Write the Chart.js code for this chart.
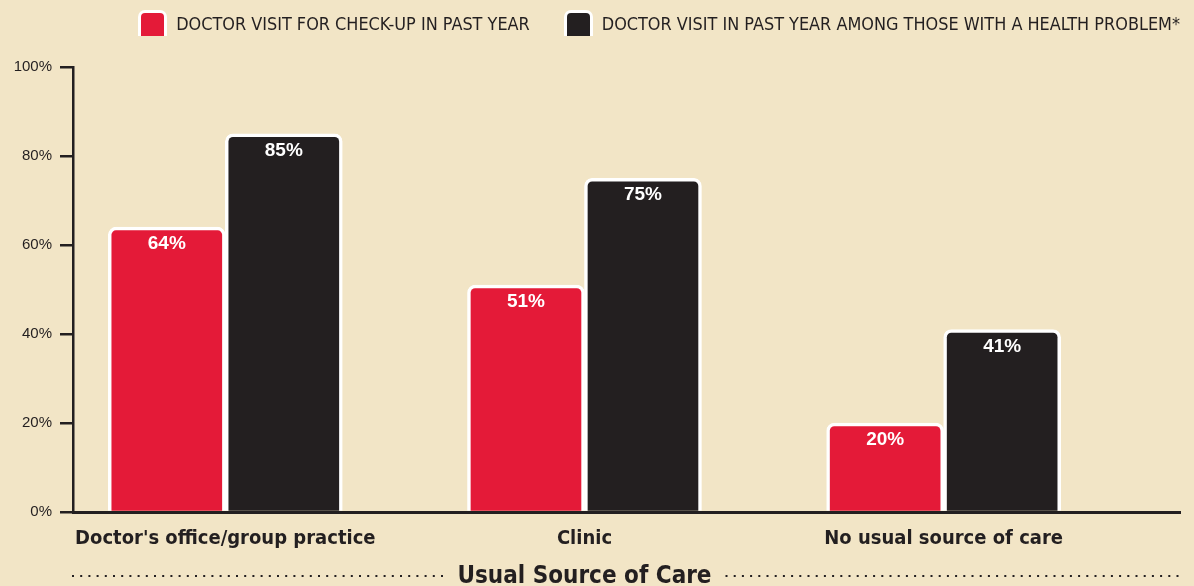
<!DOCTYPE html>
<html>
<head>
<meta charset="utf-8">
<script src="https://cdn.jsdelivr.net/npm/chart.js@4.4.1/dist/chart.umd.min.js"></script>
<style>
    body { margin: 0; background: #f2e5c6; }
    #wrap { position: relative; width: 1194px; height: 586px; }
    #legend {
        position: absolute; top: 10px; right: 14px;
        display: flex; gap: 34px; margin: 0; padding: 0; list-style: none;
        font-family: "DejaVu Sans Condensed", sans-serif;
        font-size: 17.9px; color: #231f20; white-space: nowrap;
    }
    #legend li { display: flex; align-items: flex-start; height: 26px; line-height: 28px; }
    #legend .box {
        flex: none; box-sizing: border-box;
        width: 29px; height: 26px; margin-right: 9px;
        border: 3px solid #fff; border-bottom: none;
        border-radius: 7px 7px 0 0;
    }
</style>
</head>
<body>
<div id="wrap">
    <ul id="legend"></ul>
    <canvas id="chart" width="1194" height="586"></canvas>
</div>
<script>
const categories = ["Doctor's office/group practice", "Clinic", "No usual source of care"];
const checkupValues = [64, 51, 20];
const problemValues = [85, 75, 41];
const seriesLabels = ["DOCTOR VISIT FOR CHECK-UP IN PAST YEAR", "DOCTOR VISIT IN PAST YEAR AMONG THOSE WITH A HEALTH PROBLEM*"];
const yTicks = [0, 20, 40, 60, 80, 100];
const axisTitle = "Usual Source of Care";

const ink = "#231f20";
const red = "#e41a38";
const narrow = "'DejaVu Sans Condensed', sans-serif";

// values on top of the bars
const barLabels = {
    id: "barLabels",
    afterDatasetsDraw(chart) {
        const ctx = chart.ctx;
        ctx.save();
        ctx.fillStyle = "#fff";
        ctx.font = "bold 19px 'Liberation Sans', Arial, sans-serif";
        ctx.textAlign = "center";
        ctx.textBaseline = "middle";
        chart.data.datasets.forEach((ds, i) => {
            chart.getDatasetMeta(i).data.forEach((bar, j) => {
                ctx.fillText(ds.data[j].y + "%", bar.x, bar.y + 17);
            });
        });
        ctx.restore();
    }
};

// axis title with dotted rules either side
const axisTitlePlugin = {
    id: "axisTitle",
    afterDraw(chart) {
        const ctx = chart.ctx;
        const area = chart.chartArea;
        const cx = chart.scales.x.getPixelForValue(1);
        const y = 576;
        ctx.save();
        ctx.font = "bold 24px " + narrow;
        const w = ctx.measureText(axisTitle).width;
        ctx.fillStyle = ink;
        ctx.textAlign = "center";
        ctx.textBaseline = "alphabetic";
        ctx.fillText(axisTitle, cx, 583);

        ctx.strokeStyle = ink;
        ctx.lineWidth = 2;
        ctx.setLineDash([2, 6.2]);
        ctx.beginPath();
        ctx.moveTo(area.left - 1, y);
        ctx.lineTo(cx - w / 2 - 12, y);
        ctx.moveTo(cx + w / 2 + 14, y);
        ctx.lineTo(area.right, y);
        ctx.stroke();
        ctx.restore();
    }
};

const chart = new Chart(document.getElementById("chart"), {
    type: "bar",
    data: {
        datasets: [
            {
                label: seriesLabels[0],
                data: checkupValues.map((v, i) => ({ x: i, y: v })),
                backgroundColor: red,
                borderColor: "#fff",
                borderWidth: 3.5,
                borderRadius: 8,
                borderSkipped: "start"
            },
            {
                label: seriesLabels[1],
                data: problemValues.map((v, i) => ({ x: i, y: v })),
                backgroundColor: ink,
                borderColor: "#fff",
                borderWidth: 3.5,
                borderRadius: 8,
                borderSkipped: "start"
            }
        ]
    },
    options: {
        responsive: false,
        animation: false,
        barThickness: 117,
        layout: { padding: { top: 67, right: 14, left: 0, bottom: 0 } },
        plugins: {
            legend: { display: false },
            tooltip: { enabled: false }
        },
        scales: {
            x: {
                type: "linear",
                offset: false,
                min: -0.424,
                max: 2.658,
                afterBuildTicks: s => { s.ticks = categories.map((c, i) => ({ value: i })); },
                afterFit: s => { s.height = 74; },
                grid: { drawOnChartArea: false, drawTicks: false },
                border: { color: ink, width: 3 },
                ticks: {
                    callback: v => categories[v],
                    color: ink,
                    padding: 15,
                    maxRotation: 0,
                    autoSkip: false,
                    font: { family: narrow, size: 20, weight: "bold" }
                }
            },
            y: {
                min: 0,
                max: 100,
                afterBuildTicks: s => { s.ticks = yTicks.map(v => ({ value: v })); },
                afterFit: s => { s.width = 73; },
                grid: { drawOnChartArea: false, tickLength: 13, lineWidth: 2.5, color: ink },
                border: { color: ink, width: 2.5 },
                ticks: {
                    callback: v => v + "%",
                    color: ink,
                    padding: 8,
                    font: { family: "'Liberation Sans', Arial, sans-serif", size: 15 }
                }
            }
        }
    },
    plugins: [barLabels, axisTitlePlugin]
});

// html legend from the datasets
const legend = document.getElementById("legend");
chart.data.datasets.forEach(ds => {
    const li = document.createElement("li");
    const box = document.createElement("span");
    box.className = "box";
    box.style.background = ds.backgroundColor;
    li.appendChild(box);
    li.appendChild(document.createTextNode(ds.label));
    legend.appendChild(li);
});
</script>
</body>
</html>
